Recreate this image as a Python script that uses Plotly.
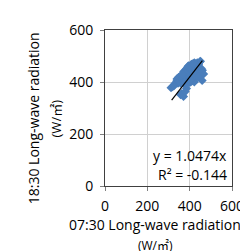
import plotly.graph_objects as go

x_vals = [312, 318, 325, 330, 335, 340, 345, 350, 355, 357, 362, 371, 379, 385,
          340, 348, 352, 358, 365, 370, 375, 380, 385, 390, 395, 400,
          360, 368, 372, 378, 383, 388, 393, 398, 403, 408, 412, 418,
          380, 386, 392, 398, 404, 410, 415, 420, 425, 430, 435, 440,
          395, 402, 408, 414, 420, 426, 432, 438, 444, 450, 455, 460, 466,
          405, 412, 418, 422, 428, 436, 442, 448, 451, 422, 430, 445, 459, 452, 440,
          372, 385, 398, 410, 425, 440, 455, 365, 392, 415]
y_vals = [378, 382, 385, 392, 398, 405, 395, 400, 410, 351, 356, 344, 363, 375,
          412, 418, 402, 395, 410, 420, 405, 415, 428, 410, 420, 398,
          425, 432, 440, 425, 438, 445, 430, 418, 440, 430, 422, 410,
          445, 452, 440, 455, 448, 460, 440, 450, 455, 442, 430, 445,
          462, 455, 468, 458, 470, 462, 450, 465, 455, 448, 440, 445, 431,
          400, 405, 412, 400, 470, 474, 468, 478, 480, 474, 420, 430, 406, 425, 462,
          395, 392, 405, 415, 425, 418, 452, 430, 460, 470]

slope = 1.0474
line_x = [315, 460]
line_y = [v * slope for v in line_x]

x_ticks = [0, 200, 400, 600]
y_ticks = [0, 200, 400, 600]

font = "Open Sans, Noto Sans CJK KR, sans-serif"
W, H = 248, 251
ML, MR, MT, MB = 97, 14, 16, 73
PW, PH = W - ML - MR, H - MT - MB


def px_x(px):
    return (px - ML) / PW


def px_y(py):
    return (H - MB - py) / PH


fig = go.Figure()
fig.add_trace(go.Scatter(x=x_vals, y=y_vals, mode="markers",
                         marker=dict(symbol="diamond", size=7, color="#4A7EBB"),
                         showlegend=False, hoverinfo="skip"))
fig.add_trace(go.Scatter(x=line_x, y=line_y, mode="lines",
                         line=dict(color="black", width=1.2),
                         showlegend=False, hoverinfo="skip"))

axis_common = dict(range=[0, 600], showgrid=True, gridcolor="#d0d0d0", gridwidth=1,
                   showline=True, linecolor="#404040", linewidth=1, mirror=True,
                   ticks="outside", ticklen=4, tickcolor="#808080", zeroline=False,
                   tickfont=dict(family=font, size=14, color="black"))

fig.update_xaxes(tickvals=x_ticks, ticklabelstandoff=3, **axis_common)
fig.update_yaxes(tickvals=y_ticks, ticklabelstandoff=4, **axis_common)

fig.update_layout(
    width=W, height=H,
    margin=dict(l=ML, r=MR, t=MT, b=MB),
    plot_bgcolor="white", paper_bgcolor="white",
    font=dict(family=font, size=14, color="black"),
    annotations=[
        dict(text="y = 1.0474x", x=px_x(231), y=px_y(146), xref="paper", yref="paper",
             xanchor="right", yanchor="middle", showarrow=False, font=dict(size=14)),
        dict(text="R² = -0.144", x=px_x(231), y=px_y(166), xref="paper", yref="paper",
             xanchor="right", yanchor="middle", showarrow=False, font=dict(size=14)),
        dict(text="07:30 Long-wave radiation", x=px_x(151), y=px_y(218), xref="paper", yref="paper",
             xanchor="center", yanchor="middle", showarrow=False, font=dict(size=14)),
        dict(text="(W/㎡)", x=px_x(151), y=px_y(239.5), xref="paper", yref="paper",
             xanchor="center", yanchor="middle", showarrow=False, font=dict(size=12)),
        dict(text="18:30 Long-wave radiation", x=px_x(20), y=px_y(108), xref="paper", yref="paper",
             xanchor="center", yanchor="middle", textangle=-90, showarrow=False, font=dict(size=14)),
        dict(text="(W/㎡)", x=px_x(44), y=px_y(108), xref="paper", yref="paper",
             xanchor="center", yanchor="middle", textangle=-90, showarrow=False, font=dict(size=13)),
    ],
)

fig.write_html("out.html")
